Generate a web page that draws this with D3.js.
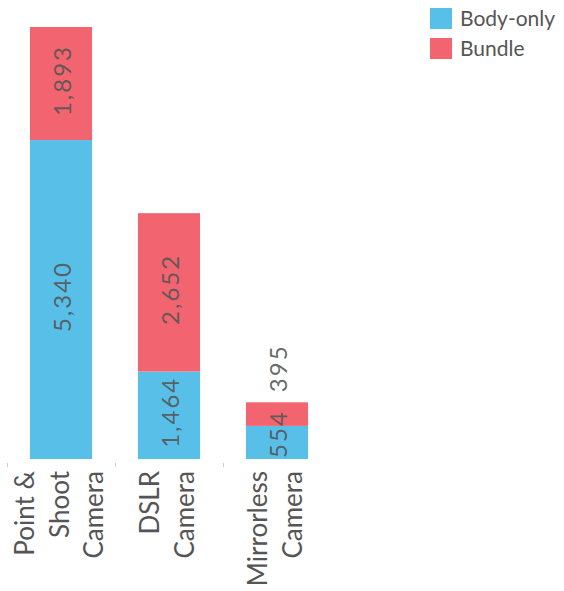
<!DOCTYPE html>
<html><head><meta charset="utf-8">
<script src="https://cdn.jsdelivr.net/npm/d3@7"></script>
<style>
body{margin:0;background:#fff;}
svg text{font-family:Lato,"Open Sans",Arial,sans-serif;}
</style></head>
<body><svg id="c" width="564" height="591"></svg>
<script>
const categories = ["Point & Shoot Camera", "DSLR Camera", "Mirrorless Camera"];
const categoryLines = [["Point &", "Shoot", "Camera"], ["DSLR", "Camera"], ["Mirrorless", "Camera"]];
const seriesNames = ["Body-only", "Bundle"];
const bodyOnly = [5340, 1464, 554];
const bundle = [1893, 2652, 395];
const colors = ["#58bfe9", "#f2646f"];

const svg = d3.select("#c");
const baseY = 459;
const x = d3.scaleBand().domain(categories).range([7, 331]).paddingInner(0).paddingOuter(0);
const y = d3.scaleLinear().domain([0, 7233]).range([baseY, 27]);
const barW = x.bandwidth() * 0.575;

const data = categories.map((c, i) => ({cat: c, vals: [bodyOnly[i], bundle[i]]}));
const stack = d3.stack().keys([0, 1]).value((d, k) => d.vals[k])(data);

const fmt = d3.format(",");
stack.forEach((layer, k) => {
  const g = svg.append("g");
  g.selectAll("rect").data(layer).enter().append("rect")
    .attr("x", d => x(d.data.cat) + (x.bandwidth() - barW) / 2)
    .attr("width", barW)
    .attr("y", d => y(d[1]))
    .attr("height", d => y(d[0]) - y(d[1]))
    .attr("fill", colors[k]);
});
stack.forEach((layer, k) => {
  svg.append("g").selectAll("text").data(layer).enter().append("text")
    .attr("transform", d => {
      const cx = x(d.data.cat) + x.bandwidth() / 2 + 1;
      const h = y(d[0]) - y(d[1]);
      const outside = h < 28;
      let cy = outside ? y(d[1]) - 34 : (y(d[0]) + y(d[1])) / 2 - 3;
      if (!outside) cy = Math.min(cy, baseY - 25);
      return `translate(${cx},${cy}) rotate(-90)`;
    })
    .attr("text-anchor", "middle")
    .attr("dy", "0.36em")
    .attr("font-size", 24)
    .attr("letter-spacing", "2px")
    .attr("fill", "#555")
    .attr("fill-opacity", 0.9)
    .text(d => fmt(d.data.vals[k]));
});

// axis ticks
svg.append("g").selectAll("line").data(categories).enter().append("line")
  .attr("x1", d => x(d) + 0.5).attr("x2", d => x(d) + 0.5)
  .attr("y1", 463).attr("y2", 467)
  .attr("stroke", "#ccc").attr("stroke-width", 1);

// category labels
const lineH = 34.5;
categories.forEach((c, i) => {
  const lines = categoryLines[i];
  const cx = x(c) + x.bandwidth() / 2;
  const t = svg.append("text")
    .attr("transform", `translate(${cx},471) rotate(-90)`)
    .attr("text-anchor", "end")
    .attr("font-size", 26)
    .attr("fill", "#555");
  lines.forEach((ln, j) => {
    t.append("tspan").attr("x", 0)
      .attr("y", (j - (lines.length - 1) / 2) * lineH + 7.5)
      .text(ln);
  });
});

// legend
const lg = svg.append("g");
seriesNames.forEach((s, i) => {
  lg.append("rect").attr("x", 430).attr("y", 8 + i * 30).attr("width", 22).attr("height", 21).attr("fill", colors[i]);
  lg.append("text").attr("x", 460).attr("y", 26 + i * 30).attr("font-size", 21).attr("fill", "#555").text(s);
});
</script></body></html>
